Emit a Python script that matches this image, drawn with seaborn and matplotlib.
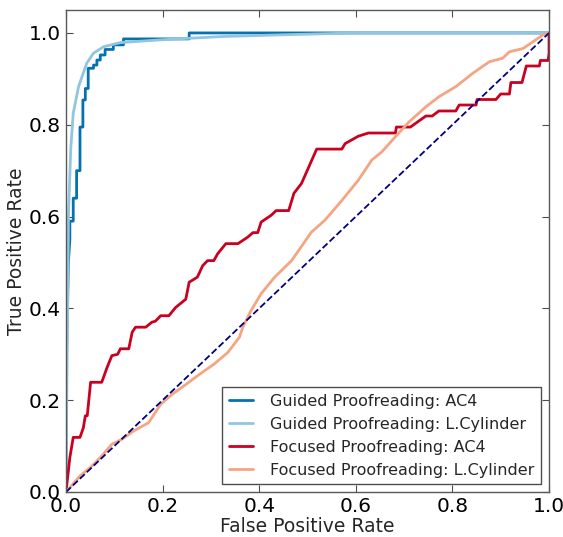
import matplotlib
matplotlib.use("Agg")
import matplotlib.pyplot as plt
import seaborn as sns
import pandas as pd

# Guided Proofreading: AC4
gp_ac4_fpr = [0.0, 0.0, 0.003, 0.005, 0.008, 0.008, 0.015, 0.015, 0.022, 0.022, 0.029, 0.029,
              0.035, 0.035, 0.040, 0.040, 0.046, 0.046, 0.057, 0.057, 0.064, 0.064, 0.071,
              0.071, 0.081, 0.081, 0.098, 0.098, 0.119, 0.119, 0.255, 0.255, 1.0]
gp_ac4_tpr = [0.0, 0.24, 0.40, 0.50, 0.55, 0.59, 0.59, 0.64, 0.64, 0.70, 0.70, 0.795,
              0.795, 0.854, 0.854, 0.879, 0.879, 0.923, 0.923, 0.930, 0.930, 0.941, 0.941,
              0.952, 0.952, 0.964, 0.964, 0.974, 0.974, 0.987, 0.987, 1.0, 1.0]

# Guided Proofreading: L.Cylinder
gp_lc_fpr = [0.0, 0.002, 0.004, 0.005, 0.010, 0.015, 0.026, 0.043, 0.057, 0.078, 0.1125,
             0.196, 0.32, 0.45, 0.6, 1.0]
gp_lc_tpr = [0.0, 0.25, 0.45, 0.60, 0.75, 0.825, 0.883, 0.934, 0.956, 0.970, 0.979,
             0.985, 0.992, 0.996, 1.0, 1.0]

# Focused Proofreading: AC4
fp_ac4_fpr = [0.0, 0.001, 0.008, 0.015, 0.029, 0.036, 0.040, 0.044, 0.051, 0.074, 0.085,
              0.095, 0.107, 0.1125, 0.13, 0.137, 0.144, 0.165, 0.178, 0.185, 0.196, 0.213,
              0.227, 0.248, 0.255, 0.272, 0.283, 0.293, 0.306, 0.314, 0.331, 0.356, 0.376,
              0.387, 0.397, 0.404, 0.425, 0.435, 0.461, 0.472, 0.4875, 0.519, 0.571, 0.578,
              0.605, 0.626, 0.682, 0.684, 0.713, 0.745, 0.758, 0.772, 0.807, 0.814, 0.849,
              0.851, 0.89, 0.90, 0.918, 0.921, 0.944, 0.947, 0.953, 0.98, 0.982, 0.998,
              1.0, 1.0]
fp_ac4_tpr = [0.0, 0.009, 0.075, 0.119, 0.119, 0.14, 0.166, 0.166, 0.239, 0.239, 0.271,
              0.297, 0.30, 0.312, 0.312, 0.348, 0.359, 0.359, 0.37, 0.372, 0.384, 0.384,
              0.402, 0.42, 0.457, 0.468, 0.493, 0.504, 0.504, 0.519, 0.541, 0.541, 0.555,
              0.565, 0.565, 0.588, 0.603, 0.613, 0.613, 0.651, 0.672, 0.747, 0.747, 0.759,
              0.775, 0.782, 0.782, 0.795, 0.795, 0.819, 0.819, 0.83, 0.83, 0.843, 0.843,
              0.855, 0.855, 0.867, 0.867, 0.892, 0.892, 0.904, 0.928, 0.928, 0.94, 0.94,
              0.955, 1.0]

# Focused Proofreading: L.Cylinder
fp_lc_fpr = [0.0, 0.029, 0.05, 0.071, 0.095, 0.116, 0.14, 0.171, 0.196, 0.22, 0.244, 0.272,
             0.307, 0.335, 0.359, 0.366, 0.383, 0.404, 0.432, 0.467, 0.508, 0.536, 0.571,
             0.605, 0.633, 0.654, 0.682, 0.71, 0.745, 0.772, 0.807, 0.842, 0.876, 0.904,
             0.918, 0.946, 0.967, 0.9875, 1.0]
fp_lc_tpr = [0.0, 0.035, 0.053, 0.075, 0.104, 0.115, 0.133, 0.151, 0.191, 0.213, 0.231,
             0.253, 0.279, 0.304, 0.337, 0.359, 0.395, 0.432, 0.468, 0.504, 0.566, 0.592,
             0.635, 0.679, 0.723, 0.741, 0.774, 0.806, 0.839, 0.861, 0.883, 0.912, 0.937,
             0.945, 0.959, 0.966, 0.981, 0.996, 1.0]

labels = ["Guided Proofreading: AC4", "Guided Proofreading: L.Cylinder",
          "Focused Proofreading: AC4", "Focused Proofreading: L.Cylinder"]
colors = ["#0571b0", "#92c5de", "#ca0020", "#f4a582"]
tick_vals = [0.0, 0.2, 0.4, 0.6, 0.8, 1.0]
tick_labels = ["0.0", "0.2", "0.4", "0.6", "0.8", "1.0"]

sns.set_style("ticks")
plt.rcParams["font.family"] = ["DejaVu Sans"]
plt.rcParams["xtick.direction"] = "in"
plt.rcParams["ytick.direction"] = "in"

fig = plt.figure(figsize=(5.63, 5.37), dpi=100)
ax = fig.add_axes([0.1172, 0.0838, 0.858, 0.8976])

curves = [(gp_ac4_fpr, gp_ac4_tpr), (gp_lc_fpr, gp_lc_tpr),
          (fp_ac4_fpr, fp_ac4_tpr), (fp_lc_fpr, fp_lc_tpr)]
for (fpr, tpr), lab, col in zip(curves, labels, colors):
    df = pd.DataFrame({"fpr": fpr, "tpr": tpr})
    sns.lineplot(data=df, x="fpr", y="tpr", ax=ax, color=col, lw=2, label=lab,
                 sort=False, estimator=None)

# chance line
ax.plot([0, 1], [0, 1], color="navy", lw=1.3, ls="--")

ax.set_xlim(0, 1)
ax.set_ylim(0, 1.05)
ax.set_xticks(tick_vals)
ax.set_yticks(tick_vals)
ax.set_xticklabels(tick_labels)
ax.set_yticklabels(tick_labels)
ax.tick_params(top=True, right=True, labelsize=14.5, length=5, color="0.3",
               labelcolor="black")
ax.set_xlabel("False Positive Rate", fontsize=13.5, labelpad=1)
ax.set_ylabel("True Positive Rate", fontsize=13.5, labelpad=2)
for s in ax.spines.values():
    s.set_color("0.35")
    s.set_linewidth(1)

leg = ax.legend(loc="lower right", fontsize=11.5, fancybox=False, framealpha=1,
                edgecolor="0.3", handlelength=1.5, handletextpad=1.1,
                borderaxespad=0.5)
leg.get_frame().set_linewidth(1)

fig.savefig("out.png", dpi=100)
